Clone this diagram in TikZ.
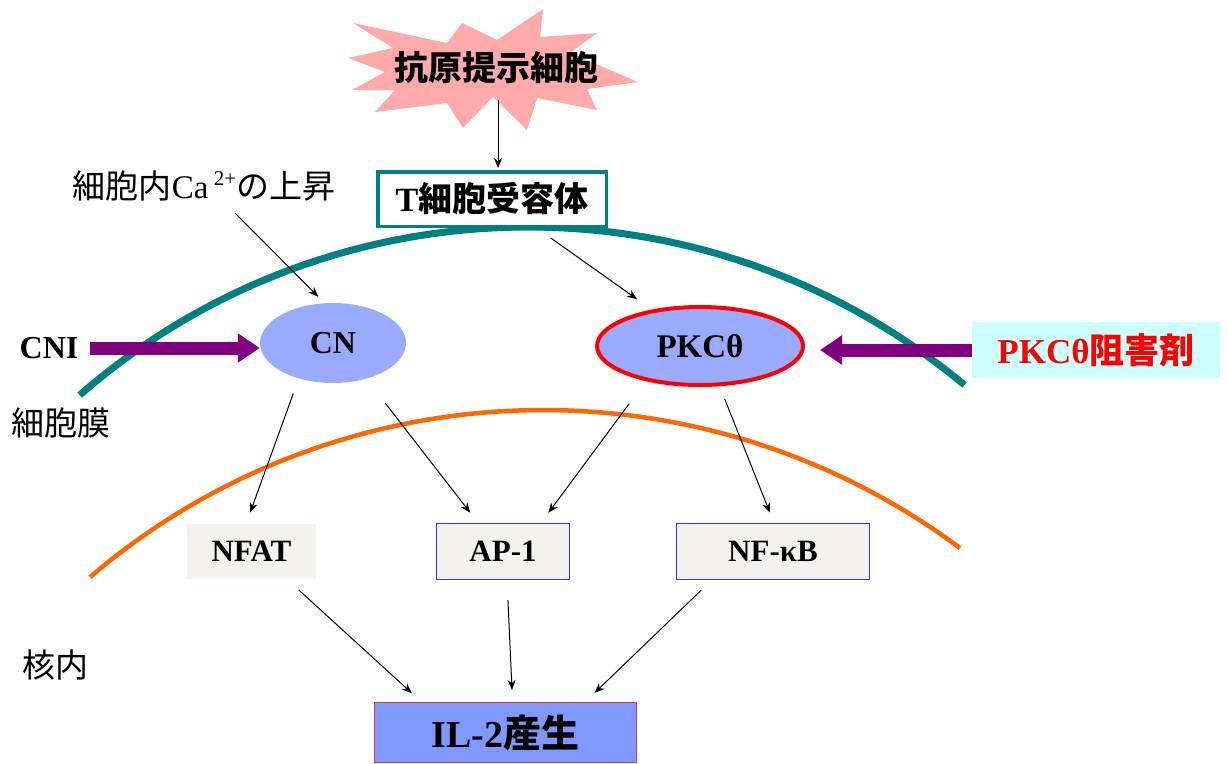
\documentclass[tikz,border=0pt]{standalone}
\usepackage{fontspec}
\setmainfont{Liberation Serif}
\newfontfamily\jp{Noto Sans CJK JP}
\usetikzlibrary{arrows.meta,shapes.geometric,calc}
\newcommand\fsz[1]{\fontsize{#1pt}{#1pt}\selectfont}
\definecolor{starpink}{RGB}{255,170,170}
\definecolor{memteal}{RGB}{0,128,128}
\definecolor{nucorange}{RGB}{255,102,0}
\definecolor{enzblue}{RGB}{153,170,255}
\definecolor{inhpurple}{RGB}{128,0,128}
\definecolor{inhcyan}{RGB}{204,255,255}
\definecolor{genefill}{RGB}{244,242,237}
\definecolor{geneblue}{RGB}{51,51,255}
\definecolor{ilblue}{RGB}{128,153,255}
\definecolor{ilred}{RGB}{230,50,70}
\begin{document}
\begin{tikzpicture}[x=1pt,y=-1pt,
  sig/.style={-{Stealth[length=10pt,width=8pt]}, line width=1pt, black},
  block/.style={-{Triangle[length=22pt,width=28pt]}, line width=13pt, inhpurple},
  enz/.style={ellipse, fill=enzblue, inner sep=0pt, font=\bfseries\fsz{32}},
  gene/.style={rectangle, fill=genefill, inner sep=0pt, font=\bfseries\fsz{31}},
  lbl/.style={inner sep=0pt, font=\jp\fsz{33}}
]
\useasboundingbox (0,0) rectangle (1228,763);
% antigen presenting cell (burst)
\fill[starpink] (353,23) -- (447,43) -- (462,23) -- (497,40) -- (543,9) -- (540,37)
  -- (597,33) -- (570,53) -- (638,82) -- (587,89) -- (597,110) -- (537,98)
  -- (527,130) -- (493,97) -- (463,128) -- (447,103) -- (375,112) -- (395,90)
  -- (352,90) -- (385,72) -- (348,58) -- (393,48) -- cycle;
\node[inner sep=0pt, font=\jp\bfseries\fsz{34}] (apc) at (496,68) {抗原提示細胞};
\coordinate (apcpt) at (498,100);
% membranes
\draw[memteal, line width=7pt] (528,909) ++(131.1:682pt) arc[start angle=131.1, end angle=50.2, radius=682pt];
\draw[nucorange, line width=4.5pt] (543.2,1108.4) ++(130.46:698.4pt) arc[start angle=130.46, end angle=53.36, radius=698.4pt];
% nodes
\node[draw=memteal, line width=3.5pt, fill=white, minimum width=228.5pt, minimum height=54.5pt, inner sep=0pt, font=\bfseries\fsz{34}] (tcr) at (492,199) {T{\jp 細胞受容体}};
\node[lbl] (ca) at (204,186) {細胞内{\rmfamily Ca\,\raisebox{0.38em}{\fsz{21}2+}}の上昇};
\coordinate (castart) at (235,213);
\node[lbl] (mem) at (61,423) {細胞膜};
\node[lbl] (nuc) at (55,665) {核内};
\node[inner sep=0pt, font=\bfseries\fsz{32}] (cni) at (49,348) {CNI};
\node[enz, minimum width=146pt, minimum height=80pt] (cn) at (333,343) {CN};
\node[enz, draw=red, line width=4pt, minimum width=206pt, minimum height=78pt, font=\bfseries\fsz{33}] (pkc) at (700,346) {PKCθ};
\node[fill=inhcyan, inner sep=0pt, minimum width=248pt, minimum height=56pt, text=red, font=\bfseries\fsz{35}] (inh) at (1096,350) {PKCθ{\jp 阻害剤}};
\node[gene, minimum width=129pt, minimum height=55pt] (nfat) at (251.5,551.5) {NFAT};
\node[gene, draw=geneblue, line width=1.2pt, minimum width=133pt, minimum height=56pt] (ap1) at (503,551.5) {AP-1};
\node[gene, draw=geneblue, line width=1.2pt, minimum width=193pt, minimum height=56pt] (nfkb) at (773,551.5) {NF-κB};
\node[fill=ilblue, draw=ilred, line width=1.2pt, inner sep=0pt, minimum width=262pt, minimum height=60pt, font=\bfseries\fsz{38}] (il2) at (505.5,732.5) {IL-2{\jp 産生}};
% inhibitor arrows
\draw[block, shorten <=11pt] (cni.east) -- (cni.east -| cn.west);
\draw[block, shorten >=15pt] (inh.west) -- (inh.west -| pkc.east);
% signalling arrows
\draw[sig, shorten >=2pt] (apcpt) -- (apcpt |- tcr.north);
\draw[sig, shorten >=9pt] (castart) -- (cn.102.5);
\draw[sig, shorten <=17pt, shorten >=18pt] (tcr.-33.4) -- (pkc.143.7);
\draw[sig, shorten <=16pt, shorten >=12pt] (cn.-134.6) -- (nfat.101.3);
\draw[sig, shorten <=31pt, shorten >=13pt] (cn.-47) -- (ap1.131.6);
\draw[sig, shorten <=28pt, shorten >=12.5pt] (pkc.-147.1) -- (ap1.37.2);
\draw[sig, shorten <=13.6pt, shorten >=11pt] (pkc.-64.3) -- (nfkb.88);
\draw[sig, shorten <=16pt, shorten >=13pt] (nfat.-38.4) -- (il2.160.9);
\draw[sig, shorten <=20pt, shorten >=12pt] (ap1.-82) -- (il2.77);
\draw[sig, shorten <=14.5pt, shorten >=13pt] (nfkb.-155.5) -- (il2.21.6);
\end{tikzpicture}
\end{document}
